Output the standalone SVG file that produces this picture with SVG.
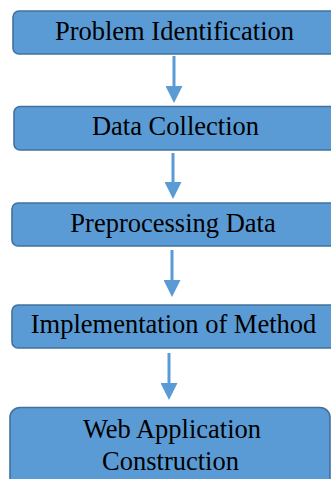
<svg xmlns="http://www.w3.org/2000/svg" width="331" height="479" viewBox="0 0 331 479">
  <style>
    .box { fill: #5B9BD5; stroke: #41719C; stroke-width: 1.6; }
    .lbl { font-family: "Liberation Serif", "Times New Roman", serif; font-size: 26.5px; fill: #000; text-anchor: middle; }
    .conn { stroke: #5B9BD5; stroke-width: 3; fill: none; }
  </style>
  <defs>
    <marker id="head" markerUnits="userSpaceOnUse" markerWidth="17" markerHeight="17" refX="0" refY="8.5" orient="auto" viewBox="0 0 17 17">
      <path d="M0,0 L17,8.5 L0,17 Z" fill="#5B9BD5"/>
    </marker>
  </defs>

  <g id="connectors">
    <path class="conn" d="M174,56 V86" marker-end="url(#head)"/>
    <path class="conn" d="M173,153 V182" marker-end="url(#head)"/>
    <path class="conn" d="M172,250 V280" marker-end="url(#head)"/>
    <path class="conn" d="M169,353 V383" marker-end="url(#head)"/>
  </g>

  <g id="problem-identification">
    <rect class="box" x="13" y="11" width="324" height="43" rx="6"/>
    <text class="lbl" x="174.5" y="40">Problem Identification</text>
  </g>

  <g id="data-collection">
    <rect class="box" x="14" y="106.5" width="323" height="43.5" rx="6"/>
    <text class="lbl" x="175.5" y="135">Data Collection</text>
  </g>

  <g id="preprocessing-data">
    <rect class="box" x="12" y="203" width="325" height="43" rx="6"/>
    <text class="lbl" x="173" y="231.5">Preprocessing Data</text>
  </g>

  <g id="implementation-of-method">
    <rect class="box" x="12" y="305" width="325" height="43" rx="6"/>
    <text class="lbl" x="173.5" y="333">Implementation of Method</text>
  </g>

  <g id="web-application-construction">
    <rect class="box" x="10" y="407.5" width="320" height="85" rx="10"/>
    <text class="lbl" x="172" y="438">Web Application</text>
    <text class="lbl" x="170.5" y="470">Construction</text>
  </g>
</svg>
